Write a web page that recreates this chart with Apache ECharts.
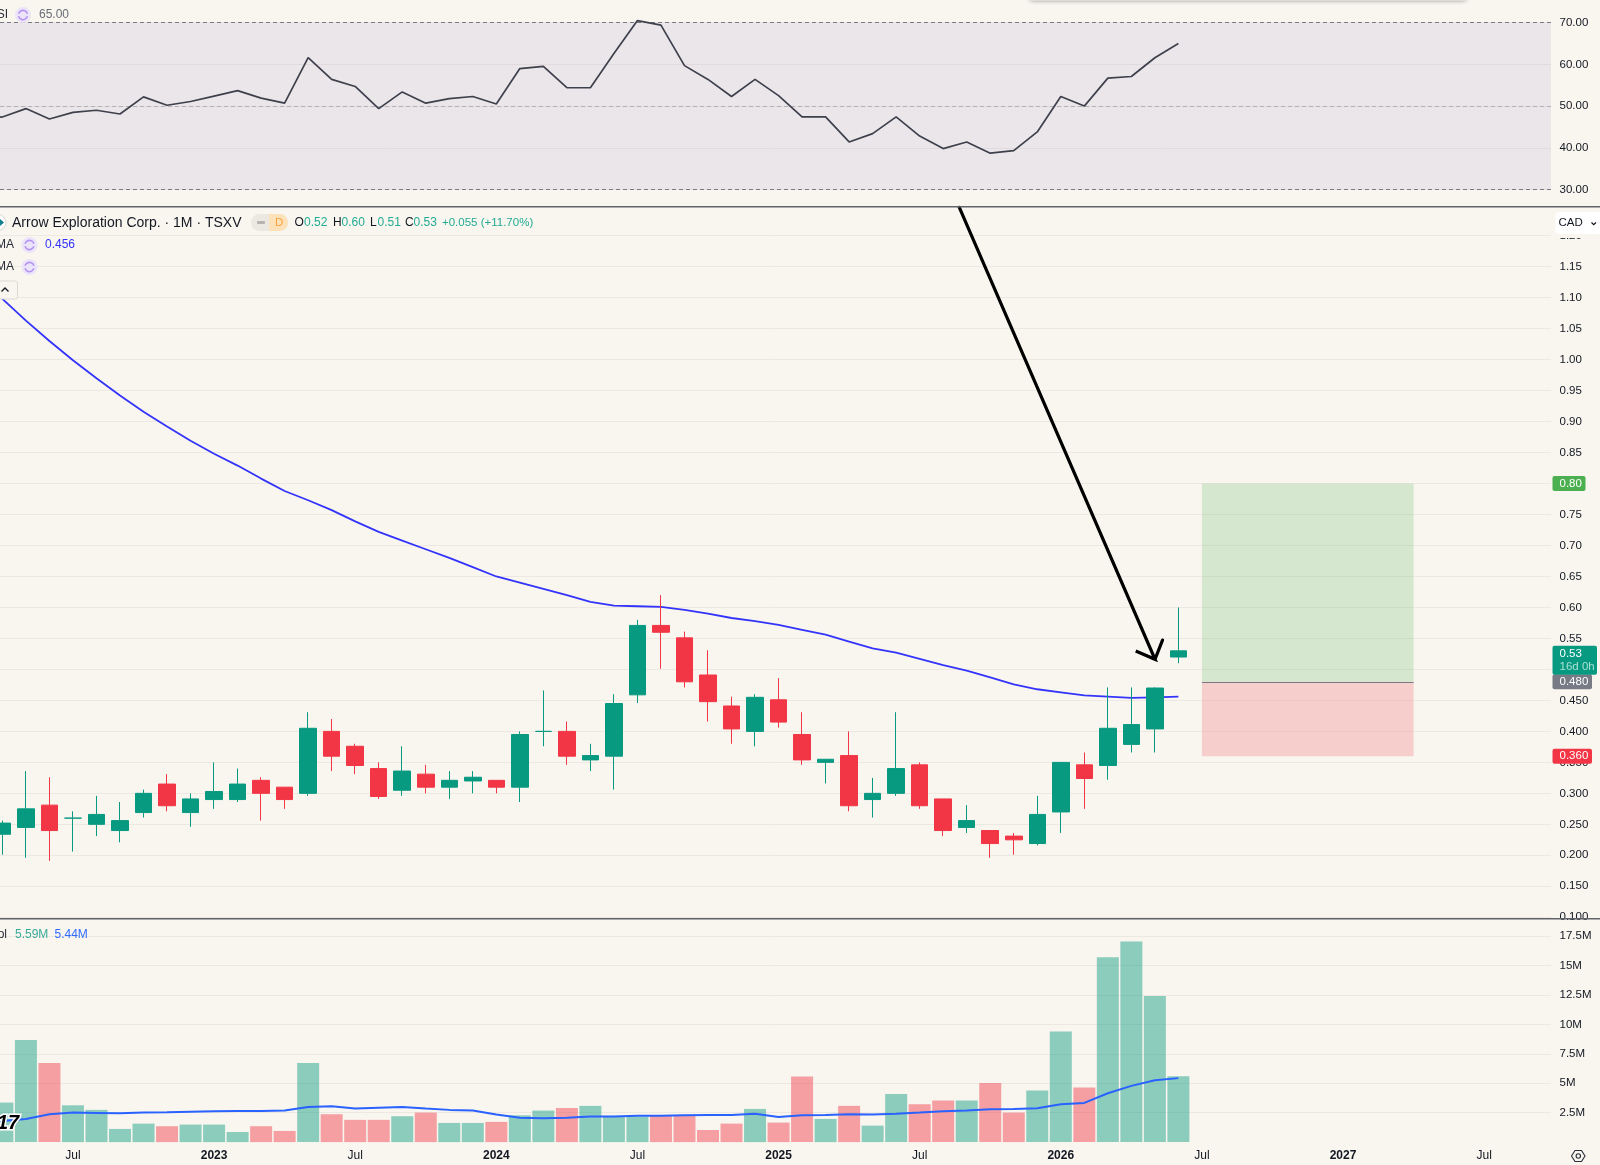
<!DOCTYPE html>
<html>
<head>
<meta charset="utf-8">
<style>html,body{margin:0;padding:0;background:#f8f6ef}#c{width:1600px;height:1165px}</style>
<script src="https://cdn.jsdelivr.net/npm/echarts@6/dist/echarts.min.js"></script>
</head>
<body>
<div id="c"></div>
<script>
// Monthly bars, Apr 2022 to Jun 2026. Month offsets are counted from Jan 2026.
const firstOffset = -45;
const opens = [.234,.245,.281,.26,.25,.24,.269,.315,.269,.29,.29,.321,.31,.30,.40,.376,.34,.305,.331,.31,.32,.321,.31,.40,.40,.354,.36,.459,.571,.551,.491,.441,.40,.451,.395,.35,.361,.29,.30,.346,.291,.245,.24,.231,.219,.27,.346,.345,.379,.404,.52];
const closes = [.252,.275,.24,.26,.266,.256,.30,.28,.291,.303,.315,.30,.29,.405,.36,.345,.295,.336,.31,.321,.326,.31,.395,.40,.36,.361,.445,.571,.56,.48,.448,.404,.455,.415,.354,.355,.28,.30,.34,.28,.24,.256,.219,.225,.266,.35,.324,.405,.411,.47,.53];
const highs = [.256,.336,.326,.271,.296,.286,.306,.331,.30,.35,.34,.326,.31,.431,.42,.38,.35,.376,.346,.336,.336,.321,.40,.466,.416,.38,.46,.58,.62,.561,.531,.456,.46,.486,.431,.355,.40,.325,.431,.35,.291,.281,.24,.236,.296,.35,.366,.471,.471,.471,.60];
const lows = [.201,.196,.191,.206,.231,.221,.261,.271,.246,.275,.286,.256,.275,.296,.336,.331,.291,.296,.30,.291,.30,.30,.286,.376,.346,.336,.306,.446,.501,.471,.416,.38,.376,.406,.346,.316,.271,.261,.296,.275,.231,.236,.196,.201,.216,.236,.275,.322,.366,.366,.51];
const volumes = [3.36,8.69,6.73,3.13,2.74,1.12,1.57,1.35,1.49,1.49,.86,1.35,.95,6.73,2.37,1.89,1.89,2.2,2.51,1.63,1.63,1.72,2.28,2.68,2.9,3.08,2.17,2.17,2.25,2.25,1.03,1.57,2.82,1.66,5.57,1.97,3.08,1.4,4.1,3.22,3.53,3.53,5.03,2.51,4.38,9.4,4.64,15.72,17.05,12.43,5.59];
// The three indicator lines start one month earlier so they run off the left edge.
const maOffset = -46;
const priceMa = [1.134,1.098,1.063,1.03,.999,.97,.942,.916,.892,.869,.848,.829,.808,.788,.773,.757,.739,.722,.708,.694,.68,.665,.65,.64,.63,.62,.609,.603,.602,.601,.596,.59,.583,.578,.572,.564,.556,.545,.534,.527,.517,.507,.498,.487,.476,.468,.463,.458,.456,.454,.455,.456];
const rsi = [46.8,47.4,49.4,46.9,48.5,49,48.1,52.2,50.2,51.1,52.4,53.7,51.9,50.7,61.6,56.4,54.7,49.4,53.4,50.7,51.8,52.3,50.5,59,59.5,54.4,54.4,62.6,70.5,69.4,59.7,56.4,52.3,56.4,52.5,47.4,47.4,41.4,43.4,47.4,42.8,39.8,41.4,38.7,39.3,43.8,52.3,50,56.7,57.1,61.6,65];
const volumeMa = [1.7,1.8,1.97,2.37,2.51,2.48,2.45,2.51,2.54,2.59,2.62,2.65,2.65,2.68,2.99,3.05,2.85,2.93,2.99,2.85,2.74,2.68,2.34,2.08,2.03,2.06,2.17,2.17,2.23,2.25,2.28,2.31,2.31,2.42,2.14,2.28,2.31,2.37,2.34,2.42,2.51,2.62,2.68,2.79,2.82,2.88,3.22,3.33,4.15,4.78,5.26,5.44];

const timeTicks = [-42,-36,-30,-24,-18,-12,-6,0,6,12,18];
const timeLabels = ['Jul','2023','Jul','2024','Jul','2025','Jul','2026','Jul','2027','Jul'];
const priceTicks = [.10,.15,.20,.25,.30,.35,.40,.45,.50,.55,.60,.65,.70,.75,.80,.85,.90,.95,1.00,1.05,1.10,1.15,1.20];
const rsiTicks = [30,40,50,60,70];
const rsiLevels = [70,50,30];
const volumeTicks = [2.5,5,7.5,10,12.5,15,17.5];

// Long position drawn on the price pane: entry, target and stop.
const positionStart = 6, positionEnd = 15;
const entryPrice = .48, targetPrice = .80, stopPrice = .36;
// Hand-drawn arrow on the price pane, as [month offset, price].
const arrowPath = [[-4.32,1.246],[4.005,.5164],[3.185,.5298],[4.005,.5164],[4.325,.5474]];

const BG = '#f8f6ef', UP = '#089981', DOWN = '#f23645', GRID = '#ede9e2', INK = '#131722';
const FONT = '"Liberation Sans", sans-serif';
const xMin = -45.102, xMax = 20.842;

const candleData = opens.map((o, i) => [firstOffset + i, o, closes[i], lows[i], highs[i]]);
const volumeData = volumes.map((v, i) => ({
  value: [firstOffset + i, v],
  itemStyle: {color: closes[i] >= opens[i] ? 'rgba(8,153,129,.45)' : 'rgba(242,54,69,.45)'}
}));
const onMonths = arr => arr.map((v, i) => [maOffset + i, v]);

const priceLabel = v => v < .5 ? v.toFixed(3) : v.toFixed(2);
const axisText = {color: INK, fontFamily: FONT, fontSize: 11.5, margin: 8.5};

const yAxisFor = (gridIndex, min, max, ticks, formatter) => ({
  gridIndex, type: 'value', position: 'right', min, max, scale: true,
  axisLine: {show: false},
  axisTick: {show: false, customValues: ticks},
  splitLine: {show: true, lineStyle: {color: GRID, width: 1}},
  axisLabel: {...axisText, customValues: ticks, formatter, hideOverlap: false, showMinLabel: true, showMaxLabel: true}
});
const xAxisFor = (gridIndex, showLabels) => ({
  gridIndex, type: 'value', min: xMin, max: xMax,
  axisLine: {show: false},
  axisTick: {show: false, customValues: timeTicks},
  splitLine: {show: false},
  axisLabel: showLabels ? {
    show: true, customValues: timeTicks, margin: 8, fontFamily: FONT, fontSize: 12, color: INK, hideOverlap: false,
    formatter: v => {
      const t = timeLabels[timeTicks.indexOf(Math.round(v))] || '';
      return t.length === 4 ? '{y|' + t + '}' : t;
    },
    rich: {y: {fontWeight: 'bold', fontSize: 12, color: INK, fontFamily: FONT}}
  } : {show: false}
});

const option = {
  backgroundColor: BG,
  animation: false,
  grid: [
    {left: 0, width: 1551, top: 0, height: 206},
    {left: 0, width: 1551, top: 207, height: 711},
    {left: 0, width: 1551, top: 919, height: 223.1}
  ],
  xAxis: [xAxisFor(0, false), xAxisFor(1, false), xAxisFor(2, true)],
  yAxis: [
    yAxisFor(0, 26.04, 75.44, rsiTicks, v => v.toFixed(2)),
    yAxisFor(1, .09884, 1.2463, priceTicks, priceLabel),
    yAxisFor(2, 0, 18.97, volumeTicks, v => v + 'M')
  ],
  series: [
    {
      type: 'line', name: 'RSI', xAxisIndex: 0, yAxisIndex: 0, data: onMonths(rsi), showSymbol: false, z: 5,
      lineStyle: {color: '#3e414c', width: 1.7},
      markArea: {silent: true, z: 1, itemStyle: {color: 'rgba(126,87,194,.1)'}, data: [[{yAxis: rsiLevels[2]}, {yAxis: rsiLevels[0]}]]},
      markLine: {
        silent: true, symbol: 'none', z: 2, label: {show: false},
        lineStyle: {color: '#787b86', type: [4, 3], width: 1},
        data: rsiLevels.map(v => ({yAxis: v, lineStyle: v === 50 ? {color: '#b3b0b6'} : {}}))
      }
    },
    {
      type: 'line', name: 'MA', xAxisIndex: 1, yAxisIndex: 1, data: onMonths(priceMa), showSymbol: false, z: 3,
      lineStyle: {color: '#3333fb', width: 1.8}
    },
    {
      type: 'candlestick', name: 'Arrow Exploration Corp.', xAxisIndex: 1, yAxisIndex: 1, data: candleData, barWidth: 17, z: 5,
      itemStyle: {color: UP, color0: DOWN, borderColor: UP, borderColor0: DOWN, borderWidth: 1},
      markArea: {
        silent: true, z: 1,
        data: [
          [{coord: [positionStart, entryPrice], itemStyle: {color: 'rgba(76,175,80,.2)'}}, {coord: [positionEnd, targetPrice]}],
          [{coord: [positionStart, stopPrice], itemStyle: {color: 'rgba(242,54,69,.2)'}}, {coord: [positionEnd, entryPrice]}]
        ]
      },
      markLine: {
        silent: true, symbol: 'none', z: 2, label: {show: false},
        lineStyle: {color: '#787b86', type: 'solid', width: 1},
        data: [[{coord: [positionStart, entryPrice]}, {coord: [positionEnd, entryPrice]}]]
      }
    },
    {
      type: 'line', name: 'Arrow', xAxisIndex: 1, yAxisIndex: 1, data: arrowPath, showSymbol: false, z: 6, silent: true,
      lineStyle: {color: '#000', width: 3.2, cap: 'round', join: 'miter'}
    },
    {type: 'bar', name: 'Vol', xAxisIndex: 2, yAxisIndex: 2, data: volumeData, barWidth: 22, z: 3},
    {
      type: 'line', name: 'Vol MA', xAxisIndex: 2, yAxisIndex: 2, data: onMonths(volumeMa), showSymbol: false, z: 5,
      lineStyle: {color: '#2962ff', width: 2}
    }
  ]
};

const chart = echarts.init(document.getElementById('c'), null, {renderer: 'canvas'});
chart.setOption(option);

// Overlay text and small interface pieces.
const text = (x, y, t, fill, extra) => ({
  type: 'text', x, y, z: 100,
  style: {text: t, fill, font: '12px ' + FONT, textVerticalAlign: 'middle', verticalAlign: 'middle', ...extra}
});
const box = (x, y, w, h, fill, r, extra) => ({
  type: 'rect', z: 99, shape: {x, y, width: w, height: h, r: r || 0}, style: {fill, ...extra}
});
const loopIcon = (cx, cy) => [
  {type: 'circle', z: 99, shape: {cx, cy, r: 8}, style: {fill: '#ece4f8'}},
  {type: 'arc', z: 100, shape: {cx, cy, r: 4.6, startAngle: 0.3, endAngle: 2.9}, style: {fill: 'none', stroke: '#b594f5', lineWidth: 1.6}},
  {type: 'arc', z: 100, shape: {cx, cy, r: 4.6, startAngle: 3.4, endAngle: 6}, style: {fill: 'none', stroke: '#b594f5', lineWidth: 1.6}}
];
const valueY = v => chart.convertToPixel({yAxisIndex: 1}, v);
const tag = (v, label, fill, w) => {
  const y = valueY(v);
  return [
    box(1552.5, y - 7.5, w, 15, fill, 2),
    text(1559.5, y, label, '#fff', {font: '11.5px ' + FONT})
  ];
};
const closeY = valueY(closes[closes.length - 1]);
const teal = '#22ab94', label = '#2a2e39';

const overlay = [
  // edge of a floating toolbar at the top
  box(1030, -4, 436, 4.5, '#f8f6ef', 0, {shadowBlur: 4, shadowColor: 'rgba(0,0,0,.45)'}),

  // pane separators
  box(0, 206, 1600, 1.6, '#61636b'),
  box(0, 918, 1600, 1.6, '#61636b'),

  // RSI legend
  text(8, 15, 'RSI', label, {align: 'right', textAlign: 'right'}),
  ...loopIcon(23, 15),
  text(39, 15, '65.00', '#6a6d78'),

  // price legend
  {type: 'circle', z: 99, shape: {cx: -2, cy: 222.5, r: 8}, style: {fill: '#fff', stroke: '#d6d6d6', lineWidth: 1}},
  {type: 'polygon', z: 100, shape: {points: [[0, 219], [4, 222.5], [0, 226]]}, style: {fill: '#0f7f8f'}},
  text(12, 223, 'Arrow Exploration Corp. · 1M · TSXV', INK, {font: '14px ' + FONT}),
  box(251, 214, 37, 17, '#ebe8e2', 8.5),
  box(269, 214, 19, 17, '#fde1b8', [0, 8.5, 8.5, 0]),
  box(257, 221, 8, 3, '#b6b4b0', 1),
  text(275, 222.5, 'D', '#f7a43a', {font: '11.5px ' + FONT}),
  text(294.5, 223, 'O', INK), text(304, 223, '0.52', teal),
  text(333, 223, 'H', INK), text(341.5, 223, '0.60', teal),
  text(370, 223, 'L', INK), text(377.5, 223, '0.51', teal),
  text(405, 223, 'C', INK), text(413.5, 223, '0.53', teal),
  text(442, 223, '+0.055 (+11.70%)', teal, {font: '11.5px ' + FONT}),

  // moving average legends
  text(14, 245, 'MA', label, {align: 'right', textAlign: 'right'}),
  ...loopIcon(29.5, 245),
  text(45, 245, '0.456', '#3333fb'),
  text(14, 267, 'MA', label, {align: 'right', textAlign: 'right'}),
  ...loopIcon(29.5, 267),
  box(-6, 281, 23.5, 18, BG, 2, {stroke: '#dcd9d2', lineWidth: 1}),
  {type: 'polyline', z: 100, shape: {points: [[1.5, 291.5], [5, 288], [8.5, 291.5]]}, style: {fill: 'none', stroke: INK, lineWidth: 1.3}},

  // volume legend
  text(7, 935, 'Vol', label, {align: 'right', textAlign: 'right'}),
  text(15, 935, '5.59M', '#3aa99a'),
  text(54.5, 935, '5.44M', '#2f6bff'),

  // corner mark over the first volume bars
  text(-3, 1123.5, '17', '#000', {font: 'italic bold 20px ' + FONT, stroke: '#fff', lineWidth: 3}),

  // currency button
  box(1553, 233, 47, 5, BG),
  box(1555.5, 212, 50, 22, '#fff', 4),
  text(1558.5, 223, 'CAD', INK, {font: '11.5px ' + FONT}),
  {type: 'polyline', z: 100, shape: {points: [[1591.5, 222.5], [1593.7, 224.7], [1596, 222.5]]}, style: {fill: 'none', stroke: INK, lineWidth: 1.2}},

  // price tags on the scale
  ...tag(targetPrice, '0.80', '#4caf50', 33),
  ...tag(stopPrice, '0.360', DOWN, 39.5),
  ...tag(entryPrice, '0.480', '#787b86', 39.5),
  box(1552.5, closeY - 5, 44.5, 29, UP, 2),
  text(1559.5, closeY + 3, '0.53', '#fff', {font: '11.5px ' + FONT}),
  text(1559.5, closeY + 16, '16d 0h', '#a8e0d4', {font: '11.5px ' + FONT}),

  // settings glyph
  {type: 'polygon', z: 100, shape: {points: [[1571.5, 1156], [1575, 1150.5], [1581.5, 1150.5], [1585, 1156], [1581.5, 1161.5], [1575, 1161.5]]}, style: {fill: 'none', stroke: '#2a2e39', lineWidth: 1.1}},
  {type: 'circle', z: 100, shape: {cx: 1578.3, cy: 1156, r: 2.2}, style: {fill: 'none', stroke: '#2a2e39', lineWidth: 1.1}}
];
chart.setOption({graphic: {elements: overlay}});
</script>
</body>
</html>
